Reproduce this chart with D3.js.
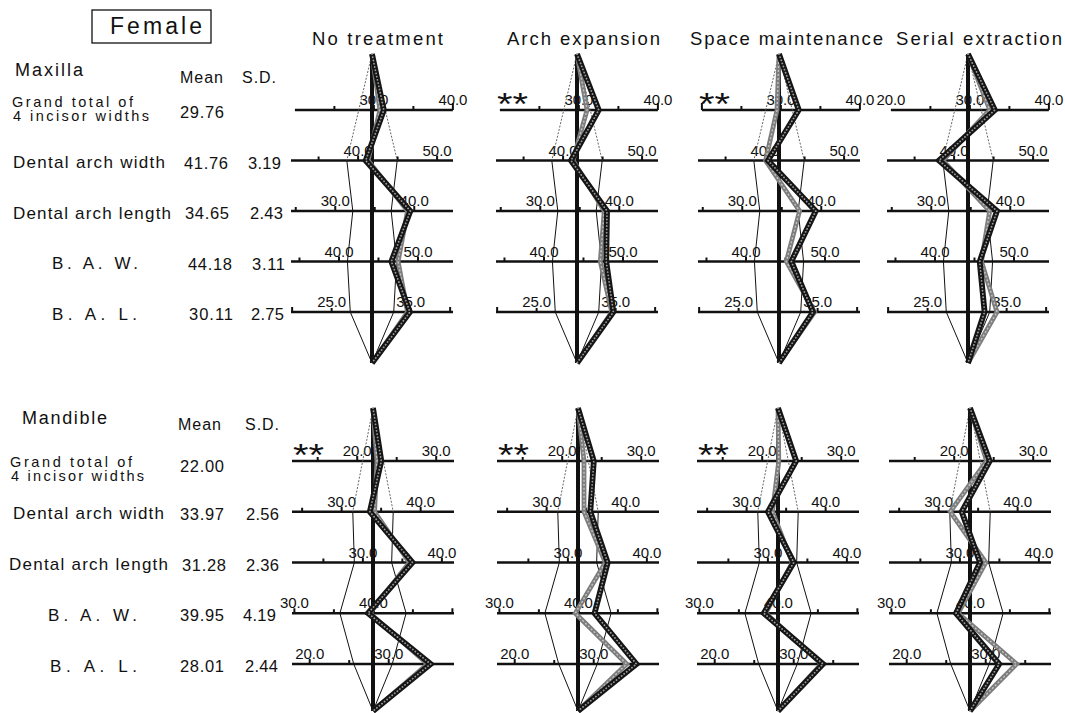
<!DOCTYPE html>
<html>
<head>
<meta charset="utf-8">
<script src="https://cdn.jsdelivr.net/npm/d3@7/dist/d3.min.js"></script>
<style>
  html, body { margin: 0; padding: 0; background: #fff; }
  svg { display: block; }
  text { font-family: "Liberation Sans", Arial, Helvetica, sans-serif; fill: #111; }
</style>
</head>
<body>
<svg id="chart" width="1065" height="713"></svg>
<script>
// ---------------- DATA ----------------
const groups = ["No treatment", "Arch expansion", "Space maintenance", "Serial extraction"];
const measures = ["Grand total of 4 incisor widths", "Dental arch width", "Dental arch length", "B. A. W.", "B. A. L."];

const maxillaMean = [29.76, 41.76, 34.65, 44.18, 30.11];
const maxillaSD   = [null, 3.19, 2.43, 3.11, 2.75];
const mandibleMean = [22.00, 33.97, 31.28, 39.95, 28.01];
const mandibleSD   = [null, 2.56, 2.36, 4.19, 2.44];

const maxillaMeanText = ["29.76", "41.76", "34.65", "44.18", "30.11"];
const maxillaSDText   = ["", "3.19", "2.43", "3.11", "2.75"];
const mandibleMeanText = ["22.00", "33.97", "31.28", "39.95", "28.01"];
const mandibleSDText   = ["", "2.56", "2.36", "4.19", "2.44"];

// tick labels per axis (first axis of maxilla depends on the panel)
const maxillaFirstAxisLabels = [[30, 40], [30, 40], [30, 40], [20, 30, 40]];
const maxillaTickLabels  = [null, [40, 50], [30, 40], [40, 50], [25, 35]];
const mandibleTickLabels = [[20, 30], [30, 40], [30, 40], [30, 40], [20, 30]];

// significance marks per panel
const maxillaSig  = ["", "**", "**", ""];
const mandibleSig = ["**", "**", "**", ""];

// series values (mm), one array per treatment group
const maxillaDark = [
  [31.26, 40.96, 39.50, 46.63, 34.91],
  [32.51, 41.00, 38.45, 47.88, 34.71],
  [32.26, 40.36, 39.30, 45.74, 34.41],
  [33.16, 38.09, 38.32, 45.66, 32.21]
];
const maxillaGray = [
  [30.76, 41.26, 39.15, 47.48, 34.61],
  [31.03, 41.26, 38.10, 47.13, 34.51],
  [29.51, 40.06, 37.25, 45.11, 34.61],
  [32.51, 38.56, 37.40, 45.88, 33.78]
];
const mandibleDark = [
  [23.05, 33.57, 36.28, 39.32, 35.31],
  [24.00, 35.53, 35.04, 42.05, 35.41],
  [24.30, 32.70, 33.28, 38.15, 33.71],
  [24.50, 32.92, 32.55, 38.18, 31.71]
];
const mandibleGray = [
  [22.50, 34.17, 35.88, 39.55, 34.91],
  [22.76, 34.73, 34.74, 39.61, 34.17],
  [22.10, 33.27, 33.08, 38.39, 33.51],
  [24.10, 31.47, 33.28, 38.45, 33.91]
];

// ---------------- LAYOUT ----------------
const PX_PER_MM = 7.9;
const AXIS_HALF = 81;
const rowsLayout = [
  { name: "Maxilla", apexTop: 54, apexBottom: 363, axisTop: 110, axisBottom: 312,
    centers: [372, 577, 779, 968], titleY: 70, titleX: 15, titleW: 68,
    headY: 77, grandDy: [-8, 6], grandMeanDy: 2,
    labelX: [12, 13, 13, 52, 52], labelW: [121, 152, 158, 86, 85], grandW2: 136,
    meanX: [180, 184, 185, 188, 189], sdX: [0, 248, 250, 252, 251] },
  { name: "Mandible", apexTop: 408, apexBottom: 711, axisTop: 461, axisBottom: 664,
    centers: [373, 578, 778, 970], titleY: 418, titleX: 22, titleW: 85,
    headY: 424, grandDy: [1, 15], grandMeanDy: 5,
    labelX: [10, 13, 9, 48, 50], labelW: [122, 151, 159, 89, 87], grandW2: 133,
    meanX: [180, 180, 182, 180, 180], sdX: [0, 246, 246, 243, 245] }
];
const titleLayout = [
  { x: 312, w: 131 }, { x: 507, w: 153 }, { x: 690, w: 193 }, { x: 896, w: 166 }
];

const svg = d3.select("#chart");

// Female box
svg.append("rect").attr("x", 92).attr("y", 10).attr("width", 119).attr("height", 33)
  .attr("fill", "none").attr("stroke", "#111").attr("stroke-width", 1.3);
svg.append("text").attr("x", 110).attr("y", 26).attr("dominant-baseline", "central")
  .attr("font-size", 23).attr("textLength", 92).attr("lengthAdjust", "spacing").text("Female");

// column titles
groups.forEach((g, i) => {
  svg.append("text").attr("x", titleLayout[i].x).attr("y", 38)
    .attr("dominant-baseline", "central").attr("font-size", 18.5)
    .attr("textLength", titleLayout[i].w).attr("lengthAdjust", "spacing").text(g);
});

const rowsData = [
  { mean: maxillaMean, sd: maxillaSD, meanText: maxillaMeanText, sdText: maxillaSDText,
    dark: maxillaDark, gray: maxillaGray, sig: maxillaSig, ticks: maxillaTickLabels, first: maxillaFirstAxisLabels },
  { mean: mandibleMean, sd: mandibleSD, meanText: mandibleMeanText, sdText: mandibleSDText,
    dark: mandibleDark, gray: mandibleGray, sig: mandibleSig, ticks: mandibleTickLabels, first: null }
];

const line = d3.line().x(d => d[0]).y(d => d[1]);

rowsLayout.forEach((L, r) => {
  const D = rowsData[r];
  const y = d3.scalePoint().domain(measures).range([L.axisTop, L.axisBottom]);
  const g = svg.append("g");

  // left side texts
  g.append("text").attr("x", L.titleX).attr("y", L.titleY).attr("dominant-baseline", "central")
    .attr("font-size", 18).attr("textLength", L.titleW).attr("lengthAdjust", "spacing").text(L.name);
  g.append("text").attr("x", r === 0 ? 180 : 178).attr("y", L.headY).attr("dominant-baseline", "central")
    .attr("font-size", 16).attr("textLength", 43).attr("lengthAdjust", "spacing").text("Mean");
  g.append("text").attr("x", r === 0 ? 242 : 245).attr("y", L.headY).attr("dominant-baseline", "central")
    .attr("font-size", 16).attr("textLength", 34).attr("lengthAdjust", "spacing").text("S.D.");

  measures.forEach((m, j) => {
    const yy = y(m);
    if (j === 0) {
      g.append("text").attr("x", L.labelX[0]).attr("y", yy + L.grandDy[0]).attr("dominant-baseline", "central")
        .attr("font-size", 14.5).attr("textLength", L.labelW[0]).attr("lengthAdjust", "spacing").text("Grand total of");
      g.append("text").attr("x", L.labelX[0] + 1).attr("y", yy + L.grandDy[1]).attr("dominant-baseline", "central")
        .attr("font-size", 14.5).attr("textLength", L.grandW2).attr("lengthAdjust", "spacing").text("4 incisor widths");
      g.append("text").attr("x", L.meanX[0]).attr("y", yy + L.grandMeanDy).attr("dominant-baseline", "central")
        .attr("font-size", 16.5).attr("textLength", 44).attr("lengthAdjust", "spacing").text(D.meanText[0]);
    } else {
      g.append("text").attr("x", L.labelX[j]).attr("y", yy + 2).attr("dominant-baseline", "central")
        .attr("font-size", 17).attr("textLength", L.labelW[j]).attr("lengthAdjust", "spacing").text(m);
      g.append("text").attr("x", L.meanX[j]).attr("y", yy + 2).attr("dominant-baseline", "central")
        .attr("font-size", 16.5).attr("textLength", 44).attr("lengthAdjust", "spacing").text(D.meanText[j]);
      g.append("text").attr("x", L.sdX[j]).attr("y", yy + 2).attr("dominant-baseline", "central")
        .attr("font-size", 16.5).attr("textLength", 33).attr("lengthAdjust", "spacing").text(D.sdText[j]);
    }
  });

  // panels
  groups.forEach((grp, c) => {
    const cx = L.centers[c];
    const P = svg.append("g");
    const scales = D.mean.map(mu => d3.scaleLinear().domain([mu - 10, mu + 10]).range([cx - 10 * PX_PER_MM, cx + 10 * PX_PER_MM]));

    measures.forEach((m, j) => {
      const sc = scales[j];
      const yy = y(m);
      let x0 = cx - AXIS_HALF, x1 = cx + AXIS_HALF;
      const endTicks = (r === 0 && j === 0);
      if (endTicks) { x0 = sc(20); x1 = sc(40); }
      // axis line
      P.append("line").attr("x1", x0).attr("x2", x1).attr("y1", yy).attr("y2", yy)
        .attr("stroke", "#111").attr("stroke-width", 2.6);
      // ticks every 5 mm
      const lo = sc.invert(x0), hi = sc.invert(x1);
      const tv = d3.range(Math.ceil(lo / 5) * 5, hi + 0.001, 5);
      tv.forEach(v => {
        const isEnd = endTicks && (v === 20 || v === 40);
        const h = isEnd ? 7 : (v % 10 === 0 ? 5 : 4);
        P.append("line").attr("x1", sc(v)).attr("x2", sc(v)).attr("y1", yy).attr("y2", yy - h)
          .attr("stroke", "#111").attr("stroke-width", 2);
      });
      // labels
      const labs = (r === 0 && j === 0) ? D.first[c] : D.ticks[j];
      labs.forEach(v => {
        P.append("text").attr("x", sc(v)).attr("y", yy - 5).attr("text-anchor", "middle")
          .attr("font-size", 15).attr("textLength", 29).attr("lengthAdjust", "spacing").text(v.toFixed(1));
      });
    });

    // significance marks
    if (D.sig[c]) {
      const y0 = y(measures[0]);
      P.append("text").attr("x", cx - AXIS_HALF + 1).attr("y", y0 + 5)
        .attr("font-size", 32).attr("fill", (r === 0 && c === 1) ? "#8a8a8a" : "#111")
        .attr("textLength", 31).attr("lengthAdjust", "spacingAndGlyphs").text(D.sig[c]);
    }

    // SD polygon
    [-1, 1].forEach(s => {
      const p1 = scales[1](D.mean[1] + s * D.sd[1]);
      P.append("path").attr("d", line([[cx, L.apexTop], [p1, y(measures[1])]]))
        .attr("fill", "none").attr("stroke", "#555").attr("stroke-width", 0.9).attr("stroke-dasharray", "2 1.5");
      const pts = [];
      for (let j = 1; j < measures.length; j++) pts.push([scales[j](D.mean[j] + s * D.sd[j]), y(measures[j])]);
      pts.push([cx, L.apexBottom]);
      P.append("path").attr("d", line(pts)).attr("fill", "none").attr("stroke", "#111").attr("stroke-width", 1);
    });

    // centre (mean) line
    P.append("line").attr("x1", cx).attr("x2", cx).attr("y1", L.apexTop).attr("y2", L.apexBottom)
      .attr("stroke", "#111").attr("stroke-width", 4);

    const seriesPts = vals => [[cx, L.apexTop]].concat(vals.map((v, j) => [scales[j](v), y(measures[j])])).concat([[cx, L.apexBottom]]);

    // gray series
    const gp = seriesPts(D.gray[c]);
    P.append("path").attr("d", line(gp)).attr("fill", "none").attr("stroke", "#7d7d7d")
      .attr("stroke-width", 4.8).attr("stroke-linejoin", "miter");
    P.append("path").attr("d", line(gp)).attr("fill", "none").attr("stroke", "#c4c4c4")
      .attr("stroke-width", 1.4).attr("stroke-dasharray", "2 2");

    // dark series
    const dp = seriesPts(D.dark[c]);
    P.append("path").attr("d", line(dp)).attr("fill", "none").attr("stroke", "#151515")
      .attr("stroke-width", 5.8).attr("stroke-linejoin", "miter");
    P.append("path").attr("d", line(dp)).attr("fill", "none").attr("stroke", "#9a9a9a")
      .attr("stroke-width", 1.8).attr("stroke-dasharray", "0.1 3.2").attr("stroke-linecap", "round");
  });
});
</script>
</body>
</html>
